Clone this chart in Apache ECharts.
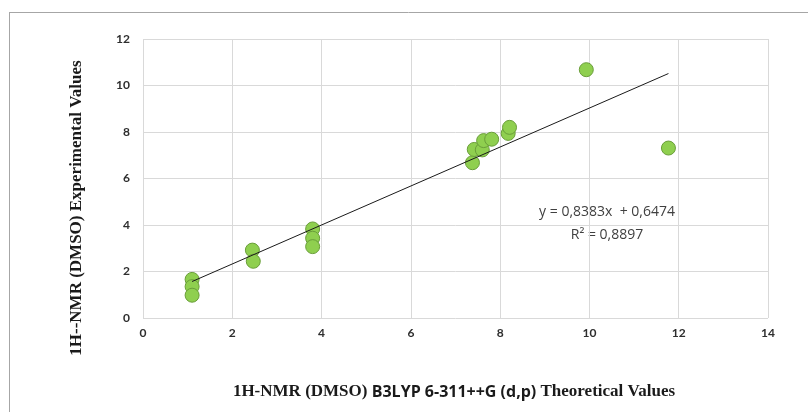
<!DOCTYPE html>
<html>
<head>
<meta charset="utf-8">
<script src="https://cdn.jsdelivr.net/npm/echarts@6/dist/echarts.min.js"></script>
<style>html,body{margin:0;padding:0;background:#fff}#c{width:808px;height:412px}</style>
</head>
<body>
<div id="c"></div>
<script>
const theoretical = [1.10, 1.10, 1.10, 2.45, 2.47, 3.80, 3.80, 3.80, 7.38, 7.42, 7.60, 7.63, 7.81, 8.18, 8.21, 9.93, 11.77];
const experimental = [1.66, 1.35, 0.98, 2.92, 2.44, 3.83, 3.43, 3.07, 6.68, 7.25, 7.23, 7.63, 7.69, 7.94, 8.20, 10.68, 7.31];
const slope = 0.8383, intercept = 0.6474, r2 = 0.8897;
const xTicks = [0, 2, 4, 6, 8, 10, 12, 14];
const yTicks = [0, 2, 4, 6, 8, 10, 12];

const points = theoretical.map((x, i) => [x, experimental[i]]);
const xMin = Math.min(...theoretical), xMax = Math.max(...theoretical);
const trend = [[xMin, slope * xMin + intercept], [xMax, slope * xMax + intercept]];
const fmt = v => v.toFixed(4).replace('.', ',');

const chart = echarts.init(document.getElementById('c'));
const tickFont = {fontFamily: 'Lato', fontWeight: 'bold', fontSize: 12, color: '#2e2e2e'};
chart.setOption({
  animation: false,
  backgroundColor: '#fff',
  grid: {left: 143, right: 40, top: 39, bottom: 94},
  xAxis: {
    type: 'value', min: xTicks[0], max: xTicks[xTicks.length - 1], interval: 2,
    axisLine: {show: false}, axisTick: {show: false},
    splitLine: {show: true, lineStyle: {color: '#d9d9d9', width: 1}},
    axisLabel: Object.assign({margin: 9}, tickFont)
  },
  yAxis: {
    type: 'value', min: yTicks[0], max: yTicks[yTicks.length - 1], interval: 2,
    axisLine: {show: false}, axisTick: {show: false},
    splitLine: {show: true, lineStyle: {color: '#d9d9d9', width: 1}},
    axisLabel: Object.assign({margin: 13}, tickFont)
  },
  series: [
    {
      type: 'line', data: trend, symbol: 'none', silent: true,
      lineStyle: {color: '#1a1a1a', width: 1}, z: 3
    },
    {
      type: 'scatter', data: points, symbol: 'circle', symbolSize: 14,
      itemStyle: {color: '#8fcf4f', borderColor: '#6a9e3a', borderWidth: 1, opacity: 1}, z: 2
    }
  ],
  graphic: [
    {type: 'line', shape: {x1: 9, y1: 12.5, x2: 808, y2: 12.5}, style: {stroke: '#a6a6a6', lineWidth: 1}},
    {type: 'line', shape: {x1: 9.5, y1: 12, x2: 9.5, y2: 412}, style: {stroke: '#a6a6a6', lineWidth: 1}},
    {type: 'text', x: 607, y: 212, style: {
      text: 'y = ' + fmt(slope) + 'x  + ' + fmt(intercept), font: '14px "Open Sans"', fill: '#404040',
      align: 'center', verticalAlign: 'middle'}},
    {type: 'text', x: 607, y: 235, style: {
      text: 'R² = ' + fmt(r2), font: '14px "Open Sans"', fill: '#404040',
      align: 'center', verticalAlign: 'middle'}},
    {type: 'text', x: 77, y: 208, rotation: Math.PI / 2, style: {
      text: '1H--NMR (DMSO) Experimental Values',
      font: 'bold 17px "Liberation Serif"', fill: '#1a1a1a', align: 'center', verticalAlign: 'middle'}},
    {type: 'text', x: 454, y: 392, style: {
      text: '{a|1H-NMR (DMSO) }{b|B3LYP 6-311++G (d,p)}{a| Theoretical Values}',
      align: 'center', verticalAlign: 'middle',
      rich: {
        a: {fontFamily: 'Liberation Serif', fontWeight: 'bold', fontSize: 17, fill: '#1a1a1a', color: '#1a1a1a'},
        b: {fontFamily: 'Open Sans', fontWeight: 'bold', fontSize: 16, fill: '#1a1a1a', color: '#1a1a1a'}
      }}}
  ]
});
</script>
</body>
</html>
